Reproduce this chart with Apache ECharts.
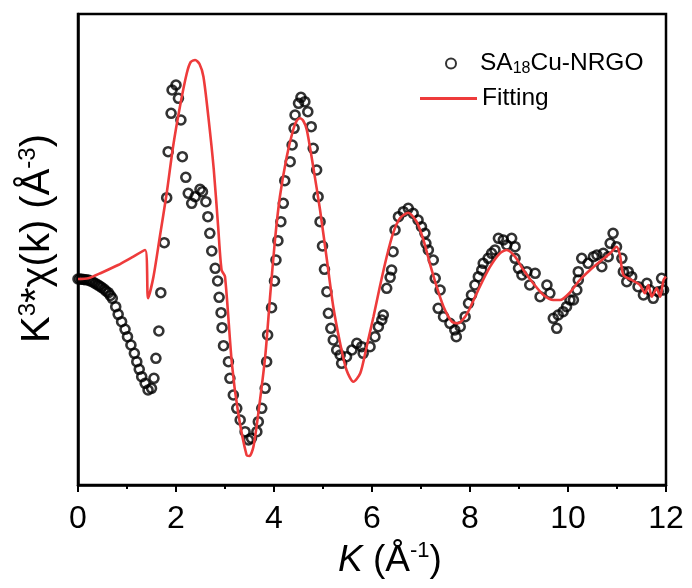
<!DOCTYPE html>
<html>
<head>
<meta charset="utf-8">
<script src="https://cdn.jsdelivr.net/npm/echarts@6/dist/echarts.min.js"></script>
<style>
html,body{margin:0;padding:0;background:#fff;}
#chart{width:692px;height:588px;}
</style>
</head>
<body>
<div id="chart"></div>
<script>
// Experimental data (circles): k values and k^3*chi(k) values (arbitrary units)
var expK = [0.00,0.04,0.08,0.12,0.16,0.21,0.25,0.30,0.35,0.40,0.44,0.48,0.53,0.57,0.62,0.66,0.70,0.77,0.82,0.89,0.96,1.01,1.08,1.15,1.20,1.25,1.30,1.37,1.43,1.50,1.55,1.59,1.65,1.69,1.76,1.81,1.84,1.90,1.92,2.00,2.05,2.10,2.13,2.20,2.25,2.32,2.39,2.49,2.54,2.61,2.65,2.69,2.73,2.80,2.85,2.88,2.92,2.94,2.97,3.07,3.10,3.17,3.24,3.31,3.41,3.48,3.54,3.65,3.68,3.75,3.82,3.85,3.87,3.95,4.01,4.04,4.08,4.14,4.19,4.22,4.33,4.37,4.41,4.43,4.50,4.55,4.63,4.69,4.76,4.80,4.87,4.90,4.94,4.99,5.03,5.08,5.11,5.16,5.21,5.28,5.35,5.38,5.48,5.59,5.69,5.79,5.82,5.96,6.06,6.13,6.20,6.23,6.30,6.37,6.40,6.43,6.47,6.54,6.64,6.74,6.84,6.94,7.01,7.08,7.10,7.15,7.25,7.29,7.39,7.35,7.46,7.59,7.69,7.72,7.80,7.90,7.97,8.03,8.10,8.17,8.24,8.27,8.37,8.44,8.51,8.58,8.68,8.75,8.85,8.92,8.92,8.99,9.06,9.16,9.22,9.33,9.43,9.57,9.63,9.70,9.77,9.80,9.90,9.97,10.04,10.11,10.18,10.21,10.21,10.28,10.41,10.52,10.59,10.69,10.72,10.82,10.86,10.92,10.99,11.10,11.13,11.23,11.20,11.30,11.43,11.54,11.61,11.67,11.74,11.84,11.91,11.95];
var expChi = [0.00,0.00,-0.03,-0.05,-0.08,-0.10,-0.20,-0.30,-0.43,-0.58,-0.70,-0.83,-1.00,-1.20,-1.37,-1.65,-1.93,-2.77,-3.53,-4.27,-5.03,-5.77,-6.60,-7.43,-8.27,-9.03,-9.77,-10.43,-11.10,-10.93,-9.93,-7.93,-5.20,-1.37,3.63,8.13,12.73,16.57,18.90,19.40,18.07,15.90,12.23,10.17,8.57,7.57,8.23,8.97,8.73,7.73,6.23,4.57,2.80,1.07,-0.20,-1.83,-3.37,-4.87,-6.67,-8.27,-9.93,-11.60,-12.93,-14.10,-15.27,-16.10,-15.93,-15.27,-14.27,-12.93,-10.93,-8.27,-5.60,-2.87,-0.20,1.90,3.83,5.73,7.57,9.83,11.73,13.40,15.07,16.40,17.57,18.17,17.73,16.73,15.23,13.07,10.90,8.23,5.73,3.30,0.97,-1.27,-3.43,-4.93,-6.10,-7.10,-7.60,-8.43,-7.77,-7.10,-6.43,-6.77,-7.43,-6.77,-5.77,-4.77,-4.10,-3.60,-0.93,0.17,0.90,2.73,4.90,6.23,6.73,7.07,6.57,5.90,5.23,4.57,3.57,2.90,1.90,0.07,-1.10,-2.93,-3.77,-4.43,-5.10,-5.77,-4.77,-3.77,-2.43,-1.60,-0.60,0.23,0.90,1.57,2.07,2.57,2.90,4.07,3.90,3.40,4.07,3.23,2.07,1.07,0.40,0.73,-0.60,0.57,-1.77,-0.60,-1.43,-3.93,-4.93,-3.60,-3.27,-2.77,-2.10,-2.10,-1.10,-0.10,0.73,2.07,1.57,2.23,2.40,1.23,2.57,2.23,3.57,4.57,3.23,2.07,0.73,0.73,-0.27,0.23,-0.77,-1.60,-0.43,-1.10,-1.93,-1.27,0.07,-1.10];

// Fitting curve
var fitK = [0.00,0.21,0.48,0.82,1.10,1.37,1.43,1.54,1.67,1.81,1.94,2.08,2.22,2.30,2.39,2.48,2.56,2.66,2.77,2.86,2.93,3.00,3.14,3.27,3.44,3.50,3.58,3.68,3.82,3.92,4.02,4.12,4.26,4.39,4.46,4.53,4.60,4.67,4.80,4.94,5.08,5.21,5.35,5.48,5.62,5.76,5.89,6.03,6.16,6.30,6.43,6.57,6.74,6.91,7.05,7.18,7.32,7.46,7.63,7.76,7.90,8.00,8.20,8.41,8.61,8.75,8.92,9.09,9.29,9.50,9.70,9.84,10.04,10.24,10.45,10.65,10.86,10.99,11.06,11.13,11.30,11.47,11.57,11.64,11.71,11.81,11.88,11.95,12.00];
var fitChi = [0.00,0.07,0.63,1.40,2.17,2.90,-1.93,0.23,4.23,8.57,13.23,17.23,20.57,21.70,21.90,21.50,20.23,16.23,11.00,5.23,0.90,0.23,-8.43,-13.43,-17.60,-17.70,-16.77,-13.43,-7.77,-1.77,3.90,8.23,12.23,14.90,15.80,16.07,15.80,14.90,11.23,6.90,1.90,-2.77,-6.43,-9.10,-10.27,-9.43,-6.77,-3.77,-0.77,2.23,4.57,6.07,6.63,5.73,3.90,1.57,-0.77,-2.77,-4.27,-4.43,-3.77,-2.90,-0.77,1.23,2.57,2.90,2.23,0.90,-0.43,-1.60,-2.10,-2.10,-1.35,-0.10,0.90,1.73,2.57,3.23,2.40,0.40,-0.10,-0.60,-1.43,-0.60,-1.77,-0.93,-1.77,-0.10,0.23];

var xTicks = [0,2,4,6,8,10,12];

var expData = expK.map(function(k,i){return [k, expChi[i]];});
var fitData = fitK.map(function(k,i){return [k, fitChi[i]];});

var chart = echarts.init(document.getElementById('chart'), null, {renderer:'canvas'});
var FONT = '"Liberation Sans", Arial, sans-serif';
var RED = '#EE3B3B';
chart.setOption({
  backgroundColor: '#ffffff',
  animation: false,
  grid: {left: 78, right: 26, top: 14, bottom: 103, show: true, borderColor: '#000', borderWidth: 2.5, backgroundColor: 'transparent'},
  legend: [
    {
      data: ['SA18Cu-NRGO'],
      left: 445, top: 51, padding: 0,
      itemWidth: 10, itemHeight: 10,
      formatter: function(){ return '{a|SA}{sub|18}{a|Cu-NRGO}'; },
      textStyle: {
        color: '#000', fontFamily: FONT, fontSize: 24.5, padding: [0,0,0,19],
        rich: {
          a: {fontSize: 24.5, fontFamily: FONT, color: '#000', lineHeight: 27},
          sub: {fontSize: 16, fontFamily: FONT, color: '#000', verticalAlign: 'bottom', lineHeight: 16}
        }
      }
    },
    {
      data: [{name: 'Fitting', icon: 'rect'}],
      left: 420, top: 86, padding: 0,
      itemWidth: 57, itemHeight: 3,
      itemStyle: {color: RED, borderWidth: 0},
      textStyle: {color: '#000', fontFamily: FONT, fontSize: 24.5}
    }
  ],
  xAxis: {
    type: 'value', min: 0, max: 12, interval: 2,
    name: '{it|K }{n|(Å}{sup|-1}{n|)}',
    nameLocation: 'middle', nameGap: 50,
    nameTextStyle: {
      padding: [0,0,0,36],
      rich: {
        it: {fontSize: 37, fontStyle: 'italic', fontFamily: FONT, color: '#000', lineHeight: 42},
        n: {fontSize: 37, fontFamily: FONT, color: '#000', lineHeight: 42},
        sup: {fontSize: 22, fontFamily: FONT, color: '#000', verticalAlign: 'top', lineHeight: 22}
      }
    },
    axisLine: {show: true, onZero: false, lineStyle: {color: '#000', width: 2.5}},
    axisTick: {show: true, inside: false, length: 7, lineStyle: {color: '#000', width: 2}},
    minorTick: {show: true, splitNumber: 2, length: 4, lineStyle: {color: '#000', width: 2}},
    axisLabel: {fontSize: 32, fontFamily: FONT, color: '#000', margin: 18,
      formatter: function(v){ return xTicks.indexOf(v) >= 0 ? String(v) : ''; }},
    splitLine: {show: false}
  },
  yAxis: {
    type: 'value', min: -20.6, max: 26.5,
    name: '{n|K}{sup|3}{n|*χ(k) (Å}{sup|-3}{n|)}',
    nameLocation: 'middle', nameGap: 18, nameRotate: 90,
    nameTextStyle: {
      padding: [0,0,0,22],
      rich: {
        n: {fontSize: 40, fontFamily: FONT, color: '#000', lineHeight: 44},
        sup: {fontSize: 24, fontFamily: FONT, color: '#000', verticalAlign: 'top', lineHeight: 24}
      }
    },
    axisLine: {show: true, onZero: false, lineStyle: {color: '#000', width: 2.5}},
    axisTick: {show: false},
    axisLabel: {show: false},
    splitLine: {show: false}
  },
  series: [
    {
      name: 'SA18Cu-NRGO', type: 'scatter', data: expData,
      symbol: 'circle', symbolSize: 9,
      itemStyle: {color: 'rgba(0,0,0,0)', borderColor: '#000', borderWidth: 2.6},
      z: 2
    },
    {
      name: 'Fitting', type: 'line', data: fitData,
      symbol: 'none', smooth: 0.25,
      lineStyle: {color: RED, width: 2.6},
      itemStyle: {color: RED},
      z: 3
    }
  ]
});
</script>
</body>
</html>
